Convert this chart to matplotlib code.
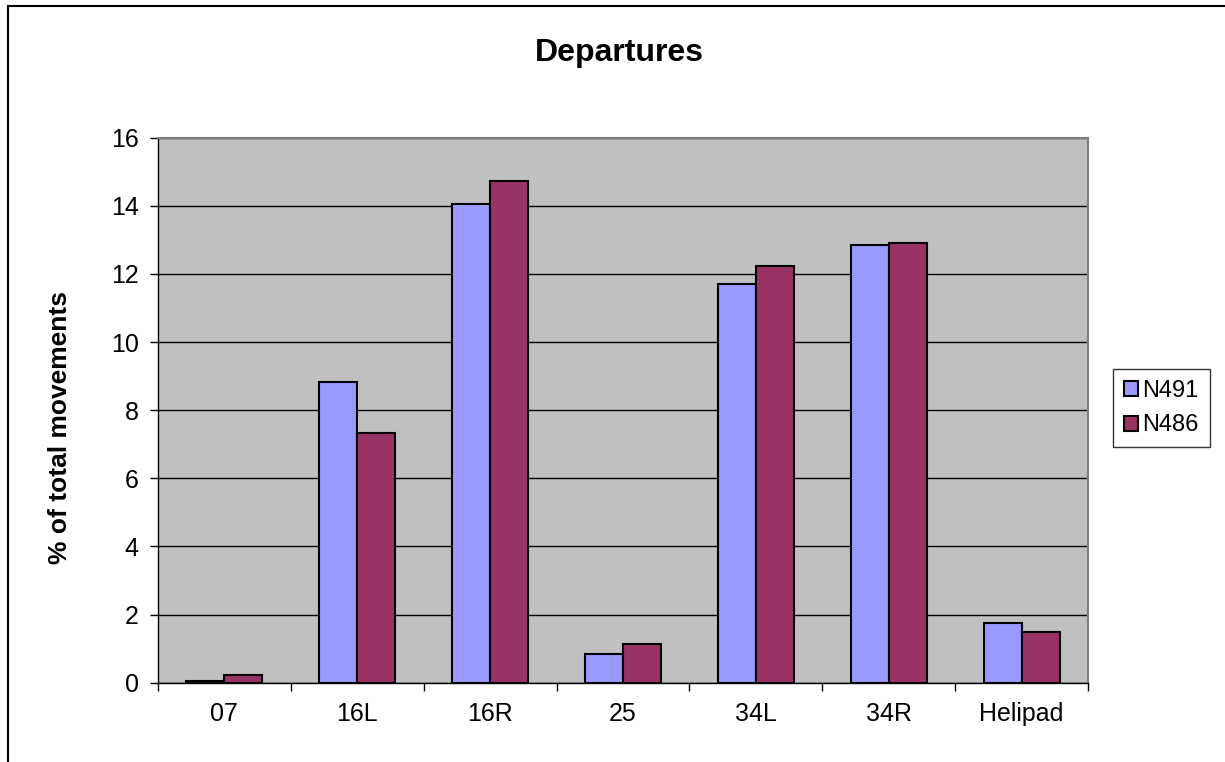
import matplotlib
matplotlib.use("Agg")
import matplotlib.pyplot as plt
from matplotlib.lines import Line2D
from matplotlib.patches import Patch
import numpy as np

categories = ["07", "16L", "16R", "25", "34L", "34R", "Helipad"]
n491 = [0.05, 8.82, 14.06, 0.85, 11.69, 12.85, 1.75]
n486 = [0.22, 7.32, 14.73, 1.13, 12.22, 12.92, 1.49]
series_names = ["N491", "N486"]
colors = ["#9999FF", "#993366"]
yticks = [0, 2, 4, 6, 8, 10, 12, 14, 16]

plt.rcParams['font.family'] = ['Liberation Sans', 'DejaVu Sans']

W, H = 1225, 762
fig = plt.figure(figsize=(W / 100, H / 100), dpi=100)
fig.patch.set_facecolor("white")

left, right, top, bottom = 158, 1088, 137.6, 682.7
ax = fig.add_axes([left / W, 1 - bottom / H, (right - left) / W, (bottom - top) / H])
ax.set_facecolor("#C0C0C0")

x = np.arange(len(categories))
bw = 1 / 3.5
ax.set_axisbelow(True)
ax.yaxis.grid(True, color="black", linewidth=1.0)
ax.bar(x - bw / 2, n491, width=bw, color=colors[0], edgecolor="black", linewidth=1.5, label=series_names[0], zorder=3)
ax.bar(x + bw / 2, n486, width=bw, color=colors[1], edgecolor="black", linewidth=1.5, label=series_names[1], zorder=3)

ax.set_xlim(-0.5, len(categories) - 0.5)
ax.set_ylim(0, 16)
ax.set_yticks(yticks)
ax.set_yticklabels([str(v) for v in yticks])
ax.set_xticks(x)
ax.set_xticklabels(categories)
ax.set_xticks(np.arange(-0.5, len(categories)), minor=True)
ax.tick_params(axis="x", which="major", length=0, pad=14, labelsize=18)
ax.tick_params(axis="x", which="minor", length=6, width=1.0, direction="out", color="black")
ax.tick_params(axis="y", which="major", length=6, width=1.0, direction="out", pad=8, labelsize=18, color="black")

for s in ["left", "bottom"]:
    ax.spines[s].set_color("black")
    ax.spines[s].set_linewidth(1.0)
for s in ["top", "right"]:
    ax.spines[s].set_color("#808080")
    ax.spines[s].set_linewidth(1.5)

fig.text(619 / W, 1 - 53 / H, "Departures", ha="center", va="center", fontsize=23, fontweight="bold")
fig.text(60 / W, 1 - 428 / H, "% of total movements", ha="center", va="center", rotation=90, fontsize=19, fontweight="bold")

handles = [Patch(facecolor=colors[i], edgecolor="black", linewidth=1.5, label=series_names[i]) for i in range(2)]
leg = fig.legend(handles=handles, loc="center left", bbox_to_anchor=(1113 / W, 1 - 408 / H),
                 frameon=True, fancybox=False, fontsize=17, handlelength=0.6, handleheight=0.6,
                 handletextpad=0.2, borderpad=0.45, labelspacing=0.55, borderaxespad=0)
leg.get_frame().set_edgecolor("black")
leg.get_frame().set_linewidth(1.0)

# chart area border (top and left)
fig.add_artist(Line2D([7.5 / W, 1], [1 - 5.5 / H, 1 - 5.5 / H], transform=fig.transFigure, color="black", linewidth=1.5))
fig.add_artist(Line2D([7.5 / W, 7.5 / W], [0, 1 - 5.5 / H], transform=fig.transFigure, color="black", linewidth=1.5))

fig.savefig("out.png", dpi=100, facecolor="white")
